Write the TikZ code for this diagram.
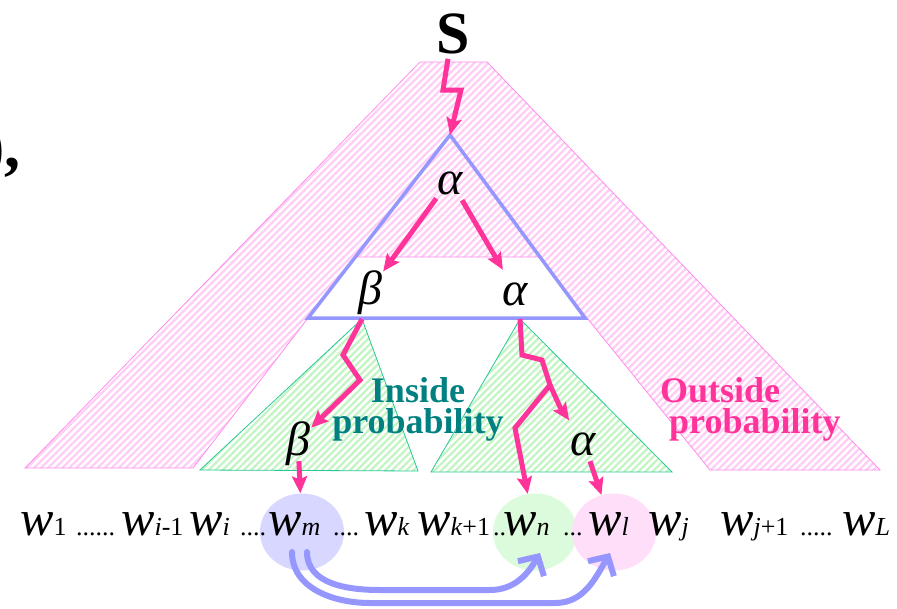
\documentclass[tikz,border=0pt]{standalone}
\usepackage{fontspec}
\setmainfont{Liberation Serif}[ItalicFont={Liberation Serif Italic},BoldFont={Liberation Serif Bold}]
\usetikzlibrary{arrows.meta,patterns.meta,shapes.geometric}
\definecolor{ArrPink}{RGB}{255,51,153}
\definecolor{HatchPink}{RGB}{255,205,245}
\definecolor{EdgePink}{RGB}{255,140,235}
\definecolor{HatchGreen}{RGB}{195,245,195}
\definecolor{EdgeGreen}{RGB}{40,200,150}
\definecolor{TreeBlue}{RGB}{150,150,255}
\definecolor{InTeal}{RGB}{0,128,128}
\definecolor{BlobBlue}{RGB}{215,215,255}
\definecolor{BlobGreen}{RGB}{220,250,220}
\definecolor{BlobPink}{RGB}{255,222,250}
\newcommand{\wrd}[1]{{\fontsize{50}{50}\selectfont\itshape w}{\fontsize{26}{26}\selectfont #1}}
\newcommand{\dotsz}{\fontsize{26}{26}\selectfont}
\tikzset{
  greek/.style={font=\fontsize{48}{48}\selectfont\itshape,inner sep=1pt,
    text height=34pt,text depth=5pt,anchor=base},
  word/.style={inner sep=0pt,anchor=base west,font=\dotsz},
  blob/.style={ellipse,minimum width=84pt,minimum height=77pt,inner sep=0pt},
  zig/.style={draw=ArrPink,line width=5pt,-{Stealth[length=17pt,width=15pt,inset=3pt]}},
  link/.style={draw=TreeBlue,line width=6pt,line cap=round,
    -{Straight Barb[length=14pt,width=30pt]}},
  outside/.style={draw=EdgePink,line width=0.8pt,pattern color=HatchPink,
    pattern={Lines[angle=45,distance=5pt,line width=2.3pt]}},
  inside/.style={draw=EdgeGreen,line width=0.8pt,pattern color=HatchGreen,
    pattern={Lines[angle=45,distance=5pt,line width=2.3pt]}},
  lbl/.style={font=\fontsize{36}{31}\selectfont\bfseries,inner sep=0pt},
}

\begin{document}
\begin{tikzpicture}[x=1pt,y=-1pt]
\useasboundingbox (0,0) rectangle (897,608);
% hatched regions
\draw[outside] (420,62) -- (487,62) -- (880,470) -- (710,470) -- (587,318) -- (540,257)
  -- (355,257) -- (308,318) -- (193,468) -- (25,468) -- cycle;
\draw[inside] (362,319) -- (418,471) -- (200,470) -- cycle;
\draw[inside] (520,319) -- (672,472) -- (431,472) -- cycle;
\coordinate (top) at (450,135);\coordinate (bl) at (308,318);\coordinate (br) at (585,318);
\coordinate (gl) at (362,319);\coordinate (gr) at (520,319);
\draw[TreeBlue,line width=3.5pt] (top) -- (br) -- (bl) -- cycle;
% circled words
\node[blob,fill=BlobBlue] (cm) at (302,532) {};
\node[blob,fill=BlobGreen] (cn) at (535,532) {};
\node[blob,fill=BlobPink] (cl) at (614,532) {};
% labels
\node[font=\fontsize{64}{64}\selectfont\bfseries,anchor=base east,inner sep=0pt] (cut) at (21,167) {),};
\node[font=\fontsize{60}{60}\selectfont\bfseries,anchor=base,inner sep=0pt] (S) at (453,53) {S};
\node[greek] (a0) at (450,194) {α};
\node[greek] (b1) at (370,304) {β};
\node[greek] (a1) at (515,305) {α};
\node[greek] (b2) at (298,455) {β};
\node[greek] (a2) at (583,455) {α};
\node[lbl,InTeal,align=center] (inl) at (418,409) {Inside\\probability};
\node[lbl,ArrPink,align=left,anchor=west] (outl) at (660,409) {Outside\\\hspace*{9pt}probability};
% word row
\foreach \x/\txt [count=\i] in {20/{\wrd{1}},76/{......},121/{\wrd{\textit{i}-1}},189/{\wrd{\textit{i}}},
  240/{....},333/{....},364/{\wrd{\textit{k}}},417/{\wrd{\textit{k}+1}},493/{..},563/{...},
  648/{\wrd{\textit{j}}},720/{\wrd{\textit{j}+1}},800/{.....},842/{\wrd{\textit{L}}}}
  \node[word] (t\i) at (\x,535) {\txt};
\node[word] (wm) at (268,535) {\wrd{\textit{m}}};
\node[word] (wn) at (503,535) {\wrd{\textit{n}}};
\node[word] (wl) at (588,535) {\wrd{\textit{l}}};
% derivations
\draw[zig] ([xshift=-5pt,yshift=-5pt]S.south) -- (443,90) -- (461,90) -- (top);
\draw[zig] (a0) -- (b1);
\draw[zig] (a0) -- (a1);
\draw[zig] (gl) -- (343,355) -- (360,380) -- (b2);
\draw[zig] (gr) -- (522,355) -- (542,360) -- (550,385) coordinate (fork) -- (515,428) -- (cn);
\draw[zig] (fork) -- (560,407) -- (a2);
\draw[zig] (b2) -- (cm);
\draw[zig] (a2) -- (cl);
\draw[link] ([xshift=-10pt,yshift=-20pt]cm.center) to[out=-90,in=180] (370,603) -- (555,603)
  to[out=0,in=-120] ([xshift=-4pt,yshift=-21pt]cl.center);
\draw[link] ([xshift=5pt,yshift=-20pt]cm.center) to[out=-90,in=180] (380,590) -- (490,590)
  to[out=0,in=-120] ([xshift=5pt,yshift=-21pt]cn.center);
\end{tikzpicture}
\end{document}
